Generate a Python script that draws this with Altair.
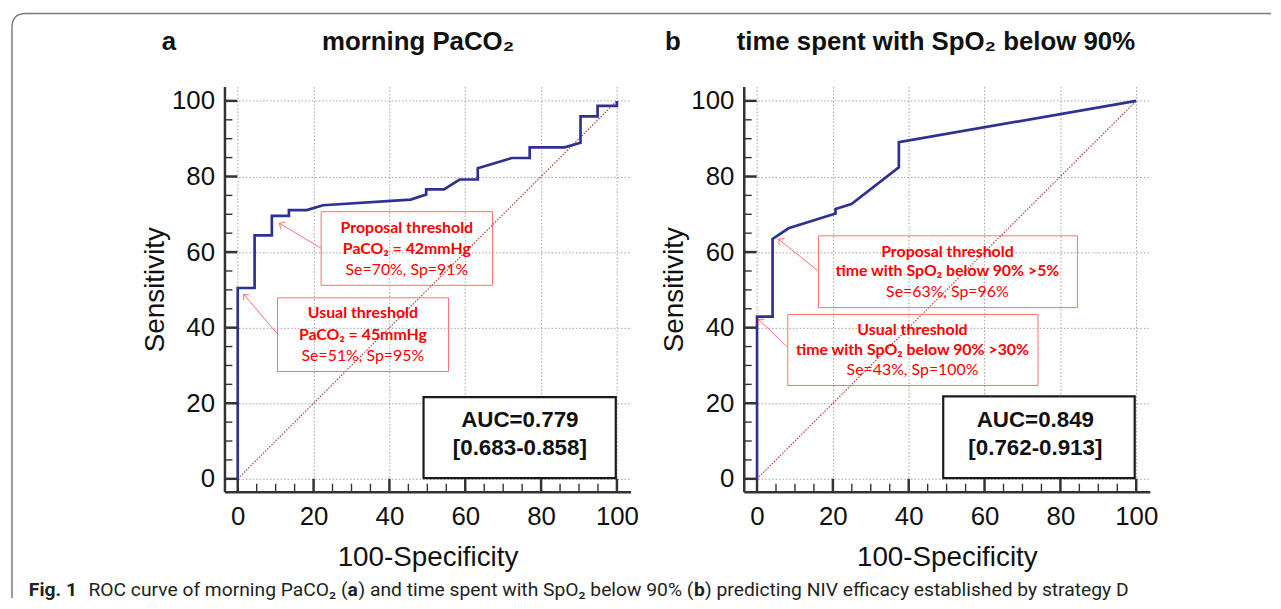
import math
import altair as alt
import pandas as pd

# ---------------- data ----------------
a_fpr = [0, 0, 4.45, 4.45, 9.0, 9.0, 13.5, 13.5, 18.2, 22.5, 45.6, 49.7, 49.7, 54.4,
         58.5, 63.3, 63.3, 72.3, 77.0, 77.0, 86.2, 90.4, 90.4, 94.9, 94.9, 100, 100]
a_tpr = [0, 50.5, 50.5, 64.4, 64.4, 69.6, 69.6, 71.1, 71.1, 72.4, 73.9, 75.2, 76.6, 76.6,
         79.2, 79.2, 82.2, 84.9, 84.9, 87.7, 87.7, 88.9, 95.9, 95.9, 98.7, 98.7, 100]
b_fpr = [0, 0, 4.1, 4.1, 8.3, 20.7, 20.7, 24.9, 37.4, 37.4, 100]
b_tpr = [0, 42.9, 42.9, 63.5, 66.3, 70.2, 71.4, 72.7, 82.4, 89.1, 100]

chance_x = [0, 100]
chance_y = [0, 100]

major_ticks = [0, 20, 40, 60, 80, 100]
minor_ticks = [5, 10, 15, 25, 30, 35, 45, 50, 55, 65, 70, 75, 85, 90, 95]

panel_letters = ["a", "b"]
panel_titles = ["morning PaCO₂", "time spent with SpO₂ below 90%"]
x_title = "100-Specificity"
y_title = "Sensitivity"

a_auc = ["AUC=0.779", "[0.683-0.858]"]
b_auc = ["AUC=0.849", "[0.762-0.913]"]
a_prop = ["Proposal threshold", "PaCO₂ = 42mmHg", "Se=70%, Sp=91%"]
a_usual = ["Usual threshold", "PaCO₂ = 45mmHg", "Se=51%, Sp=95%"]
b_prop = ["Proposal threshold", "time with SpO₂ below 90% >5%", "Se=63%, Sp=96%"]
b_usual = ["Usual threshold", "time with SpO₂ below 90% >30%", "Se=43%, Sp=100%"]

caption_parts = ["Fig. 1", "ROC curve of morning PaCO₂ (", "a",
                 ") and time spent with SpO₂ below 90% (", "b",
                 ") predicting NIV efficacy established by strategy D"]
caption_bold = [True, False, True, False, True, False]

# ---------------- layout / style ----------------
X_DOM = [-3.5, 103.6]
Y_DOM = [-3.4, 103.8]
W, H = 409, 408
SX = W / (X_DOM[1] - X_DOM[0])
SY = H / (Y_DOM[1] - Y_DOM[0])
SPACING = 114
MAJOR_LEN, MINOR_LEN = 13, 8   # tick lengths in pixels, drawn inward from the axis lines

FONT = "Liberation Sans, Arial, sans-serif"
AFONT = "Lato, sans-serif"
CFONT = "Roboto, sans-serif"
RED = "#ff0000"
RED_LINE = "#ff6f6f"
NAVY = "#2e3192"
AXIS_C = "#333333"

geo_a = {
    "prop_box": (22.0, 67.2, 51.2, 70.7), "prop_text": (44.6, [66.3, 60.8, 55.3]),
    "prop_arrow": (22.0, 61.0, 11.0, 67.6),
    "usual_box": (10.5, 55.6, 28.4, 47.9), "usual_text": (33.0, [43.8, 38.0, 32.6]),
    "usual_arrow": (10.5, 38.3, 1.6, 48.8),
    "auc_box": (49.0, 99.7, 0.2, 21.6), "auc_text": (74.4, [15.5, 8.1]),
    "letter_x": -56, "title_x": 195,
}
geo_b = {
    "prop_box": (16.2, 84.5, 45.3, 64.3), "prop_text": (50.2, [60.0, 54.9, 49.5]),
    "prop_arrow": (16.2, 54.9, 5.7, 63.4),
    "usual_box": (8.1, 74.1, 24.7, 43.5), "usual_text": (41.0, [39.3, 34.1, 28.8]),
    "usual_arrow": (8.1, 34.8, 0.4, 42.2),
    "auc_box": (49.1, 99.6, 0.2, 21.8), "auc_text": (73.4, [15.5, 8.1]),
    "letter_x": -71.5, "title_x": 193.5,
}
TITLE_BASE_Y = -36.7

caption_x = [-197, -137, 124, 135, 473, 484]   # pixel offsets from panel a's plot origin
CAPTION_Y = 513
CAPTION_SIZE = 19.4

BORDER_X, BORDER_Y = -214, -73.5
BORDER_RIGHT, BORDER_BOTTOM = 1054, 515
CORNER_R = 7


def xsc():
    return alt.Scale(domain=X_DOM, nice=False, zero=False)


def ysc():
    return alt.Scale(domain=Y_DOM, nice=False, zero=False)


x_axis = alt.Axis(values=major_ticks, title=x_title, titleFont=FONT, titleFontSize=28,
                  titleFontWeight="normal", titleColor="#111", titlePadding=14,
                  labelFont=FONT, labelFontSize=26, labelColor="#111", labelPadding=12,
                  ticks=False, domainColor=AXIS_C, domainWidth=2.5, grid=True,
                  gridColor="#a0a0a0", gridDash=[1.5, 2], gridWidth=1,
                  labelFlush=False, labelOverlap=False)
y_axis = alt.Axis(values=major_ticks, title=y_title, titleFont=FONT, titleFontSize=28,
                  titleFontWeight="normal", titleColor="#111", titlePadding=2,
                  labelFont=FONT, labelFontSize=26, labelColor="#111", labelPadding=10,
                  ticks=False, domainColor=AXIS_C, domainWidth=2.5, grid=True,
                  gridColor="#a0a0a0", gridDash=[1.5, 2], gridWidth=1,
                  labelFlush=False, labelOverlap=False)


def X(field):
    return alt.X(field, scale=xsc(), axis=x_axis)


def Y(field):
    return alt.Y(field, scale=ysc(), axis=y_axis)


def arrow_angle(x0, y0, x1, y1):
    dx = (x1 - x0) * SX
    up = (y1 - y0) * SY
    return math.degrees(math.atan2(dx, up)) % 360


def panel(fpr, tpr, letter, title, prop, usual, auc, geo, with_caption):
    layers = []
    diag = pd.DataFrame({"x": chance_x, "y": chance_y})
    layers.append(alt.Chart(diag).mark_line(color="#b03030", strokeWidth=1.1,
                                            strokeDash=[1.5, 1.5]).encode(
        x=X("x:Q"), y=Y("y:Q")))

    curve = pd.DataFrame({"x": fpr, "y": tpr, "i": list(range(len(fpr)))})
    layers.append(alt.Chart(curve).mark_line(color=NAVY, strokeWidth=2.7,
                                             strokeJoin="miter").encode(
        x=X("x:Q"), y=Y("y:Q"), order="i:Q"))

    # threshold boxes (transparent) and AUC box (white)
    bx = [geo["prop_box"], geo["usual_box"]]
    boxes = pd.DataFrame({"x": [b[0] for b in bx], "x2": [b[1] for b in bx],
                          "y": [b[2] for b in bx], "y2": [b[3] for b in bx]})
    layers.append(alt.Chart(boxes).mark_rect(fillOpacity=0, stroke=RED_LINE,
                                             strokeWidth=1).encode(
        x=X("x:Q"), x2="x2:Q", y=Y("y:Q"), y2="y2:Q"))
    ab = geo["auc_box"]
    aucbox = pd.DataFrame({"x": [ab[0]], "x2": [ab[1]], "y": [ab[2]], "y2": [ab[3]]})
    layers.append(alt.Chart(aucbox).mark_rect(fill="white", stroke="#1a1a1a",
                                              strokeWidth=2.2).encode(
        x=X("x:Q"), x2="x2:Q", y=Y("y:Q"), y2="y2:Q"))

    # arrows
    arr = [geo["prop_arrow"], geo["usual_arrow"]]
    arrows = pd.DataFrame({"x": [a[0] for a in arr], "y": [a[1] for a in arr],
                           "x2": [a[2] for a in arr], "y2": [a[3] for a in arr],
                           "ang": [arrow_angle(*a) for a in arr]})
    layers.append(alt.Chart(arrows).mark_rule(color=RED_LINE, strokeWidth=1).encode(
        x=X("x:Q"), y=Y("y:Q"), x2="x2:Q", y2="y2:Q"))
    layers.append(alt.Chart(arrows).mark_point(shape="M -1 1 L 0 0 L 1 1", filled=False,
                                               color=RED_LINE, size=70, strokeWidth=1,
                                               opacity=1).encode(
        x=X("x2:Q"), y=Y("y2:Q"), angle=alt.Angle("ang:Q", scale=None)))

    # annotation texts
    px, pys = geo["prop_text"]
    ux, uys = geo["usual_text"]
    bold_df = pd.DataFrame({"x": [px, px, ux, ux],
                            "y": [pys[0], pys[1], uys[0], uys[1]],
                            "t": [prop[0], prop[1], usual[0], usual[1]]})
    norm_df = pd.DataFrame({"x": [px, ux], "y": [pys[2], uys[2]],
                            "t": [prop[2], usual[2]]})
    layers.append(alt.Chart(bold_df).mark_text(font=AFONT, fontSize=16, fontWeight="bold",
                                               color=RED, baseline="middle").encode(
        x=X("x:Q"), y=Y("y:Q"), text="t:N"))
    layers.append(alt.Chart(norm_df).mark_text(font=AFONT, fontSize=16, fontWeight="normal",
                                               color=RED, baseline="middle").encode(
        x=X("x:Q"), y=Y("y:Q"), text="t:N"))

    tx, tys = geo["auc_text"]
    auc_df = pd.DataFrame({"x": [tx, tx], "y": tys, "t": auc})
    layers.append(alt.Chart(auc_df).mark_text(font=FONT, fontSize=22.5, fontWeight="bold",
                                              color="#111", baseline="middle").encode(
        x=X("x:Q"), y=Y("y:Q"), text="t:N"))

    # inward ticks: from the axis line (domain start) toward the plot
    x0, y0 = X_DOM[0], Y_DOM[0]
    ymaj = pd.DataFrame({"y": major_ticks, "x": [x0] * len(major_ticks),
                         "x2": [x0 + MAJOR_LEN / SX] * len(major_ticks)})
    ymin = pd.DataFrame({"y": minor_ticks, "x": [x0] * len(minor_ticks),
                         "x2": [x0 + MINOR_LEN / SX] * len(minor_ticks)})
    xmaj = pd.DataFrame({"x": major_ticks, "y": [y0] * len(major_ticks),
                         "y2": [y0 + MAJOR_LEN / SY] * len(major_ticks)})
    xmin = pd.DataFrame({"x": minor_ticks, "y": [y0] * len(minor_ticks),
                         "y2": [y0 + MINOR_LEN / SY] * len(minor_ticks)})
    layers.append(alt.Chart(ymaj).mark_rule(color=AXIS_C, strokeWidth=2.5).encode(
        y=Y("y:Q"), x=X("x:Q"), x2="x2:Q"))
    layers.append(alt.Chart(ymin).mark_rule(color=AXIS_C, strokeWidth=1.4).encode(
        y=Y("y:Q"), x=X("x:Q"), x2="x2:Q"))
    layers.append(alt.Chart(xmaj).mark_rule(color=AXIS_C, strokeWidth=2.5).encode(
        x=X("x:Q"), y=Y("y:Q"), y2="y2:Q"))
    layers.append(alt.Chart(xmin).mark_rule(color=AXIS_C, strokeWidth=1.4).encode(
        x=X("x:Q"), y=Y("y:Q"), y2="y2:Q"))

    # panel letter + title
    tdf = pd.DataFrame({"t": [letter]})
    layers.append(alt.Chart(tdf).mark_text(font=FONT, fontSize=26, fontWeight="bold",
                                           color="#111", align="center",
                                           baseline="alphabetic").encode(
        x=alt.value(geo["letter_x"]), y=alt.value(TITLE_BASE_Y), text="t:N"))
    tdf2 = pd.DataFrame({"t": [title]})
    layers.append(alt.Chart(tdf2).mark_text(font=FONT, fontSize=26, fontWeight="bold",
                                            color="#111", align="center",
                                            baseline="alphabetic").encode(
        x=alt.value(geo["title_x"]), y=alt.value(TITLE_BASE_Y), text="t:N"))

    if with_caption:
        for part, bold, cx in zip(caption_parts, caption_bold, caption_x):
            cdf = pd.DataFrame({"t": [part]})
            layers.append(alt.Chart(cdf).mark_text(
                font=CFONT, fontSize=CAPTION_SIZE, fontWeight="bold" if bold else "normal",
                color="#231f20", align="left", baseline="alphabetic").encode(
                x=alt.value(cx), y=alt.value(CAPTION_Y), text="t:N"))
        # figure frame: top and left edges with a rounded corner
        one = pd.DataFrame({"k": [1]})
        layers.append(alt.Chart(one).mark_rule(color="#7a7a7a", strokeWidth=1.5).encode(
            x=alt.value(BORDER_X + 2 * CORNER_R), x2=alt.value(BORDER_RIGHT),
            y=alt.value(BORDER_Y)))
        layers.append(alt.Chart(one).mark_rule(color="#7a7a7a", strokeWidth=1.5).encode(
            x=alt.value(BORDER_X), y=alt.value(BORDER_Y + 2 * CORNER_R),
            y2=alt.value(BORDER_BOTTOM)))
        layers.append(alt.Chart(one).mark_point(
            shape="M -1 1 Q -1 -1 1 -1", filled=False, color="#7a7a7a", strokeWidth=1.5,
            size=(2 * CORNER_R) ** 2, opacity=1).encode(
            x=alt.value(BORDER_X + CORNER_R), y=alt.value(BORDER_Y + CORNER_R)))

    return alt.layer(*layers).properties(width=W, height=H)


pa = panel(a_fpr, a_tpr, panel_letters[0], panel_titles[0], a_prop, a_usual, a_auc, geo_a, True)
pb = panel(b_fpr, b_tpr, panel_letters[1], panel_titles[1], b_prop, b_usual, b_auc, geo_b, False)

chart = alt.hconcat(pa, pb, spacing=SPACING, bounds="flush").properties(
    padding={"left": 0, "top": 0, "right": 0, "bottom": 0},
    background="white",
).configure_view(stroke="transparent")

chart.save("out.html", embed_options={"renderer": "svg", "actions": False})
